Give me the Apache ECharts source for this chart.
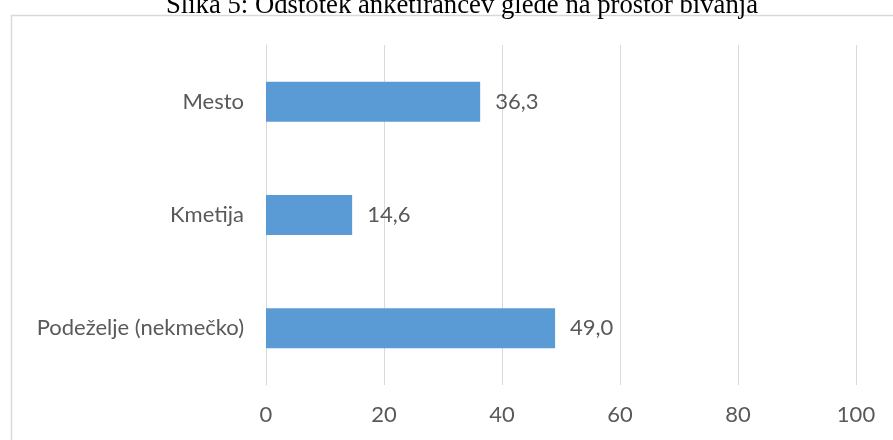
<!DOCTYPE html>
<html>
<head>
<meta charset="utf-8">
<script src="https://cdn.jsdelivr.net/npm/echarts@6/dist/echarts.min.js"></script>
<style>
  html, body { margin: 0; padding: 0; background: #fff; }
  #chart { width: 893px; height: 440px; }
</style>
</head>
<body>
<div id="chart"></div>
<script>
// podatki (od spodaj navzgor)
const categories = ['Podeželje (nekmečko)', 'Kmetija', 'Mesto'];
const values = [49.0, 14.6, 36.3];
const axisMax = 100;
const axisStep = 20;

const chart = echarts.init(document.getElementById('chart'));

const option = {
  animation: false,
  title: {
    text: 'Slika 5: Odstotek anketirancev glede na prostor bivanja',
    left: 457,
    textAlign: 'center',
    top: -13,
    textStyle: {
      fontFamily: 'Liberation Serif',
      fontSize: 26.7,
      fontWeight: 'normal',
      color: '#000'
    }
  },
  graphic: [{
    type: 'rect',
    shape: { x: 11.5, y: 15.5, width: 1000, height: 500 },
    style: { fill: 'none', stroke: '#d9d9d9', lineWidth: 1.5 },
    silent: true,
    z: -1
  }],
  grid: {
    left: 266,
    right: 37,
    top: 45,
    bottom: 55
  },
  xAxis: {
    type: 'value',
    min: 0,
    max: axisMax,
    interval: axisStep,
    axisLine: { show: false },
    axisTick: { show: false },
    splitLine: { lineStyle: { color: '#d9d9d9', width: 1 } },
    axisLabel: {
      margin: 19,
      fontFamily: 'Lato',
      fontSize: 22,
      color: '#595959'
    }
  },
  yAxis: {
    type: 'category',
    data: categories,
    axisLine: { show: true, lineStyle: { color: '#d9d9d9' } },
    axisTick: { show: false },
    axisLabel: {
      margin: 22,
      fontFamily: 'Lato',
      fontSize: 22,
      color: '#595959'
    }
  },
  series: [{
    type: 'bar',
    data: values,
    barWidth: 40,
    itemStyle: { color: '#5b9bd5' },
    label: {
      show: true,
      position: 'right',
      distance: 15,
      fontFamily: 'Lato',
      fontSize: 22,
      color: '#595959',
      formatter: p => p.value.toFixed(1).replace('.', ',')
    }
  }]
};

chart.setOption(option);
</script>
</body>
</html>
